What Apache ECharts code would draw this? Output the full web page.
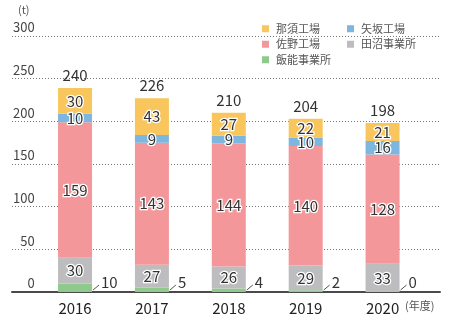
<!DOCTYPE html>
<html>
<head>
<meta charset="utf-8">
<script src="https://cdn.jsdelivr.net/npm/echarts@6/dist/echarts.min.js"></script>
<style>
  html, body { margin: 0; padding: 0; background: #fff; }
  #chart { width: 450px; height: 323px; }
</style>
</head>
<body>
<div id="chart"></div>
<script>
// Fiscal years
var years = ['2016', '2017', '2018', '2019', '2020'];
// Amounts per site (t), bottom of the stack first
var hanno  = [10, 5, 4, 2, 0];          // 飯能事業所
var tanuma = [30, 27, 26, 29, 33];      // 田沼事業所
var sano   = [159, 143, 144, 140, 128]; // 佐野工場
var yaita  = [10, 9, 9, 10, 16];        // 矢坂工場
var nasu   = [30, 43, 27, 22, 21];      // 那須工場
// Published totals above each bar
var totals = [240, 226, 210, 204, 198];
// Value axis ticks
var yTicks = [0, 50, 100, 150, 200, 250, 300];

var FONT = '"Noto Sans CJK JP", "Noto Sans", sans-serif';
var BAR_W = 34;
var colors = {
  nasu: '#F8C65C',
  yaita: '#7DB6DE',
  sano: '#F3979A',
  tanuma: '#BDBDBF',
  hanno: '#8FCA8C'
};

var inLabel = {
  show: true,
  position: 'inside',
  fontFamily: FONT,
  fontSize: 15,
  color: '#333',
  textBorderColor: '#fff',
  textBorderWidth: 2.5
};

function seg(name, data, color, label) {
  return {
    name: name,
    type: 'bar',
    stack: 'total',
    xAxisIndex: 1,
    yAxisIndex: 1,
    barWidth: BAR_W,
    itemStyle: { color: color },
    label: label,
    data: data
  };
}

function legendColumn(names, left) {
  return {
    data: names,
    orient: 'vertical',
    left: left,
    top: 21,
    itemWidth: 7,
    itemHeight: 7,
    itemGap: 0,
    icon: 'rect',
    padding: 0,
    textStyle: { fontFamily: FONT, fontSize: 11, color: '#555', padding: [0, 0, 0, 2], lineHeight: 15.5 }
  };
}

var chart = echarts.init(document.getElementById('chart'), null, { renderer: 'canvas' });

chart.setOption({
  animation: false,
  backgroundColor: '#fff',
  textStyle: { fontFamily: FONT },
  legend: [
    legendColumn(['那須工場', '佐野工場', '飯能事業所'], 262),
    legendColumn(['矢坂工場', '田沼事業所'], 347)
  ],
  grid: [
    // full-width grid that carries the dotted guide lines and the baseline
    { left: 12, right: 10, top: 36, bottom: 31 },
    // bar grid
    { left: 36.6, right: 29, top: 36, bottom: 31 }
  ],
  xAxis: [
    {
      gridIndex: 0, type: 'value', min: 0, max: 1,
      axisLine: { show: true, onZero: false, lineStyle: { color: '#4a4a4a', width: 2 } },
      axisTick: { show: false }, axisLabel: { show: false }, splitLine: { show: false }
    },
    {
      gridIndex: 1, type: 'category', data: years,
      axisLine: { show: false }, axisTick: { show: false },
      axisLabel: { margin: 9, fontFamily: FONT, fontSize: 15, fontWeight: 'normal', color: '#222' }
    }
  ],
  yAxis: [
    {
      gridIndex: 0, type: 'value', min: 0, max: 300, interval: 50,
      axisLine: { show: false }, axisTick: { show: false }, axisLabel: { show: false },
      splitLine: {
        show: true,
        lineStyle: { type: [1, 2], color: '#777', width: 1 }
      }
    },
    {
      gridIndex: 1, type: 'value', min: yTicks[0], max: yTicks[yTicks.length - 1], interval: 50,
      axisLine: { show: false }, axisTick: { show: false }, splitLine: { show: false },
      axisLabel: {
        margin: 2, verticalAlign: 'bottom', padding: [0, 0, 2, 0],
        fontFamily: FONT, fontSize: 13, color: '#444'
      }
    }
  ],
  graphic: [
    { type: 'text', left: 18, top: 4, style: { text: '(t)', font: '11px ' + FONT, fill: '#555' } },
    { type: 'text', left: 405, top: 300, style: { text: '(年度)', font: '11px ' + FONT, fill: '#555' } }
  ],
  series: [
    seg('飯能事業所', hanno, colors.hanno, { show: false }),
    seg('田沼事業所', tanuma, colors.tanuma, inLabel),
    seg('佐野工場', sano, colors.sano, inLabel),
    seg('矢坂工場', yaita, colors.yaita, inLabel),
    seg('那須工場', nasu, colors.nasu, inLabel),
    {
      // zero-height cap that carries the total above each stack
      name: 'total',
      type: 'bar',
      stack: 'total',
      xAxisIndex: 1,
      yAxisIndex: 1,
      barWidth: BAR_W,
      itemStyle: { color: 'transparent' },
      label: {
        show: true, position: 'top', distance: 5,
        fontFamily: FONT, fontSize: 15, color: '#333',
        formatter: function (p) { return totals[p.dataIndex]; }
      },
      data: years.map(function () { return 0; })
    },
    {
      // 飯能事業所 values written beside the bar foot with a short leader
      name: 'hanno-note',
      type: 'custom',
      xAxisIndex: 1,
      yAxisIndex: 1,
      silent: true,
      renderItem: function (params, api) {
        var p = api.coord([api.value(0), 0]);
        var x0 = p[0] + BAR_W / 2 + 1;
        var y0 = p[1] - 2;
        return {
          type: 'group',
          children: [
            {
              type: 'line',
              shape: { x1: x0, y1: y0, x2: x0 + 6, y2: y0 - 5 },
              style: { stroke: '#555', lineWidth: 1 }
            },
            {
              type: 'text',
              style: {
                text: String(api.value(1)),
                x: x0 + 8, y: y0 - 8,
                verticalAlign: 'middle',
                fill: '#333',
                font: '15px ' + FONT
              }
            }
          ]
        };
      },
      data: hanno.map(function (v, i) { return [i, v]; })
    }
  ]
});
</script>
</body>
</html>
